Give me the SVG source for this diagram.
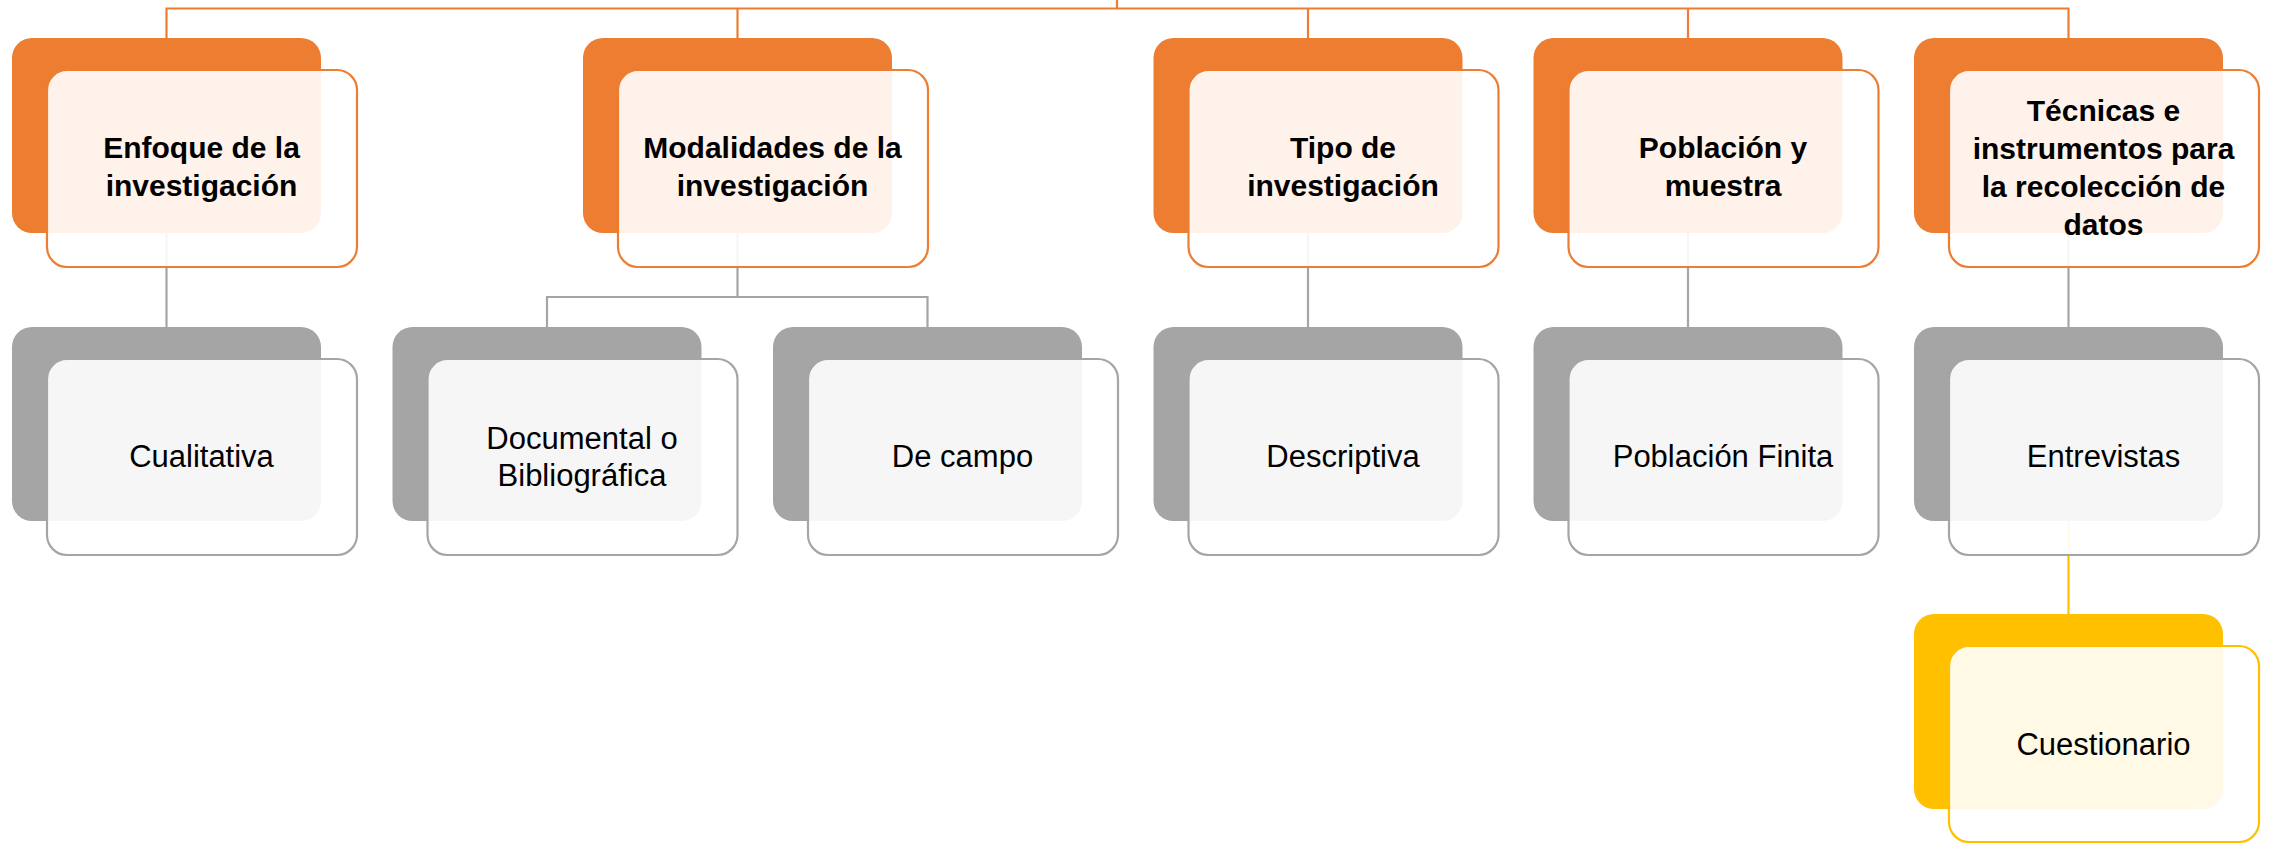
<svg xmlns="http://www.w3.org/2000/svg" width="2270" height="843" viewBox="0 0 2270 843">
<style>
.bg{fill:#FFFFFF}
.conn{fill:none;stroke-width:2.2}
.c-or{stroke:#ED7D31}
.c-gr{stroke:#A5A5A5}
.c-ye{stroke:#FFC000}
.back{stroke:none}
.front{fill:#FFFFFF;fill-opacity:0.9;stroke-width:2.2}
.or .back{fill:#ED7D31}
.or .front{stroke:#ED7D31}
.gr .back{fill:#A5A5A5}
.gr .front{stroke:#A5A5A5}
.ye .back{fill:#FFC000}
.ye .front{stroke:#FFC000}
.t{font-family:"Liberation Sans",Arial,sans-serif;fill:#000000;text-anchor:middle}
.hb{font-size:30px;font-weight:bold}
.hn{font-size:31px}
</style>
<rect class="bg" x="0" y="0" width="2270" height="843"/>
<g id="connectors">
<path class="conn c-or" d="M1117 0 V8.5"/>
<path class="conn c-or" d="M166.5 38 V8.5 H2068.5 V38"/>
<path class="conn c-or" d="M737.5 8.5 V38"/>
<path class="conn c-or" d="M1308 8.5 V38"/>
<path class="conn c-or" d="M1688 8.5 V38"/>
<path class="conn c-gr" d="M166.5 233 V327"/>
<path class="conn c-gr" d="M737.5 233 V297"/>
<path class="conn c-gr" d="M547 327 V297 H927.5 V327"/>
<path class="conn c-gr" d="M1308 233 V327"/>
<path class="conn c-gr" d="M1688 233 V327"/>
<path class="conn c-gr" d="M2068.5 233 V327"/>
<path class="conn c-ye" d="M2068.5 521 V614"/>
</g>
<g id="enfoque" class="or">
<rect class="back" x="12" y="38" width="309" height="195" rx="20"/>
<rect class="front" x="47" y="70" width="310" height="197" rx="20"/>
<text class="t hb" x="201.5"><tspan x="201.5" y="158">Enfoque de la</tspan><tspan x="201.5" y="196">investigación</tspan></text>
</g>
<g id="modalidades" class="or">
<rect class="back" x="583" y="38" width="309" height="195" rx="20"/>
<rect class="front" x="618" y="70" width="310" height="197" rx="20"/>
<text class="t hb"><tspan x="772.5" y="158">Modalidades de la</tspan><tspan x="772.5" y="196">investigación</tspan></text>
</g>
<g id="tipo" class="or">
<rect class="back" x="1153.5" y="38" width="309" height="195" rx="20"/>
<rect class="front" x="1188.5" y="70" width="310" height="197" rx="20"/>
<text class="t hb"><tspan x="1343" y="158">Tipo de</tspan><tspan x="1343" y="196">investigación</tspan></text>
</g>
<g id="poblacion" class="or">
<rect class="back" x="1533.5" y="38" width="309" height="195" rx="20"/>
<rect class="front" x="1568.5" y="70" width="310" height="197" rx="20"/>
<text class="t hb"><tspan x="1723" y="158">Población y</tspan><tspan x="1723" y="196">muestra</tspan></text>
</g>
<g id="tecnicas" class="or">
<rect class="back" x="1914" y="38" width="309" height="195" rx="20"/>
<rect class="front" x="1949" y="70" width="310" height="197" rx="20"/>
<text class="t hb"><tspan x="2103.5" y="120.5">Técnicas e</tspan><tspan x="2103.5" y="158.5">instrumentos para</tspan><tspan x="2103.5" y="196.5">la recolección de</tspan><tspan x="2103.5" y="234.5">datos</tspan></text>
</g>
<g id="cualitativa" class="gr">
<rect class="back" x="12" y="327" width="309" height="194" rx="20"/>
<rect class="front" x="47" y="359" width="310" height="196" rx="20"/>
<text class="t hn" x="201.5" y="466.5">Cualitativa</text>
</g>
<g id="documental" class="gr">
<rect class="back" x="392.5" y="327" width="309" height="194" rx="20"/>
<rect class="front" x="427.5" y="359" width="310" height="196" rx="20"/>
<text class="t hn"><tspan x="582" y="448.5">Documental o</tspan><tspan x="582" y="485.5">Bibliográfica</tspan></text>
</g>
<g id="decampo" class="gr">
<rect class="back" x="773" y="327" width="309" height="194" rx="20"/>
<rect class="front" x="808" y="359" width="310" height="196" rx="20"/>
<text class="t hn" x="962.5" y="466.5">De campo</text>
</g>
<g id="descriptiva" class="gr">
<rect class="back" x="1153.5" y="327" width="309" height="194" rx="20"/>
<rect class="front" x="1188.5" y="359" width="310" height="196" rx="20"/>
<text class="t hn" x="1343" y="466.5">Descriptiva</text>
</g>
<g id="poblacionfinita" class="gr">
<rect class="back" x="1533.5" y="327" width="309" height="194" rx="20"/>
<rect class="front" x="1568.5" y="359" width="310" height="196" rx="20"/>
<text class="t hn" x="1723" y="466.5">Población Finita</text>
</g>
<g id="entrevistas" class="gr">
<rect class="back" x="1914" y="327" width="309" height="194" rx="20"/>
<rect class="front" x="1949" y="359" width="310" height="196" rx="20"/>
<text class="t hn" x="2103.5" y="466.5">Entrevistas</text>
</g>
<g id="cuestionario" class="ye">
<rect class="back" x="1914" y="614" width="309" height="195" rx="20"/>
<rect class="front" x="1949" y="646" width="310" height="196" rx="20"/>
<text class="t hn" x="2103.5" y="754.5">Cuestionario</text>
</g>
</svg>
